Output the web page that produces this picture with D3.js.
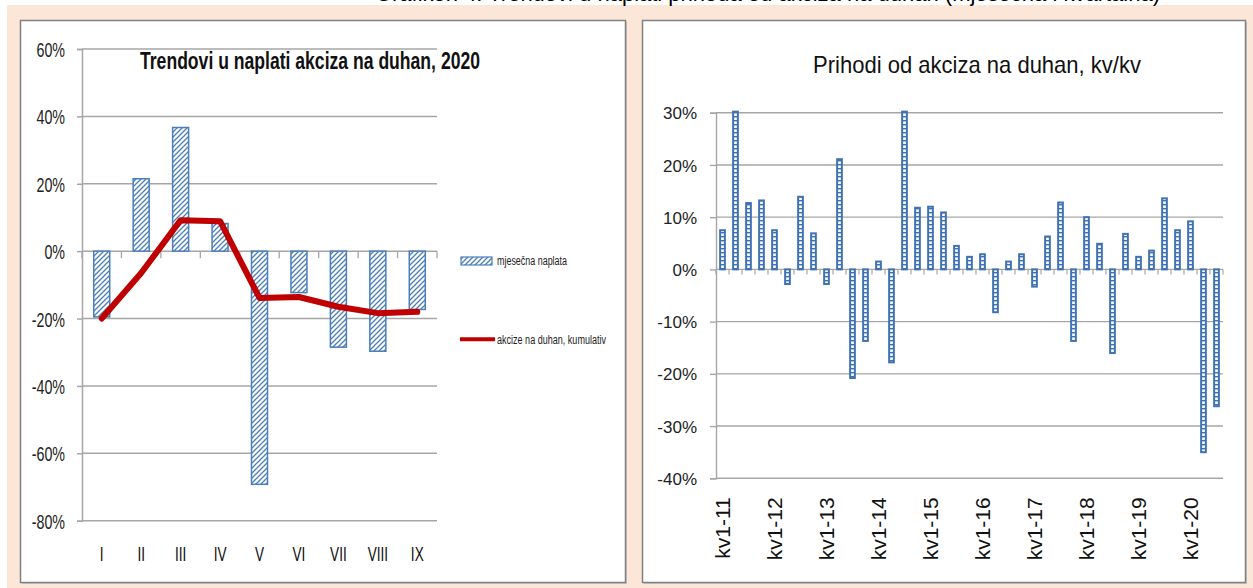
<!DOCTYPE html>
<html>
<head>
<meta charset="utf-8">
<script src="https://cdn.jsdelivr.net/npm/d3@7"></script>
<style>
body { margin: 0; background: #fff; }
svg { display: block; }
</style>
</head>
<body>
<svg id="chart" width="1253" height="588"></svg>
<script>
// left chart: monthly collection 2020
var months = ["I", "II", "III", "IV", "V", "VI", "VII", "VIII", "IX"];
var monthly = [-0.195, 0.215, 0.367, 0.082, -0.692, -0.123, -0.285, -0.297, -0.173];
var cumulative = [-0.200, -0.065, 0.092, 0.089, -0.139, -0.136, -0.165, -0.184, -0.180];
var leftTicks = [-0.8, -0.6, -0.4, -0.2, 0, 0.2, 0.4, 0.6];

// right chart: quarter on quarter
var years = ["11", "12", "13", "14", "15", "16", "17", "18", "19", "20"];
var qtrs = ["kv1", "kv2", "kv3", "kv4"];
var qoq = [0.075, 0.302, 0.127, 0.132, 0.075, -0.028, 0.139, 0.069, -0.028, 0.211,
           -0.208, -0.137, 0.015, -0.178, 0.302, 0.118, 0.120, 0.109, 0.045, 0.024,
           0.029, -0.082, 0.015, 0.029, -0.033, 0.063, 0.128, -0.137, 0.100, 0.049,
           -0.160, 0.068, 0.024, 0.036, 0.136, 0.075, 0.092, -0.350, -0.262];
var rightTicks = [-0.4, -0.3, -0.2, -0.1, 0, 0.1, 0.2, 0.3];

var quarters = [];
years.forEach(function (y) {
    qtrs.forEach(function (q) { quarters.push(q + "-" + y); });
});
quarters = quarters.slice(0, qoq.length);

var pct = function (d) { return Math.round(d * 100) + "%"; };
var gridColor = "#a6a6a6", barBlue = "#3f72b5";

var svg = d3.select("#chart");
var defs = svg.append("defs");

// diagonal hatch for monthly bars
var hatch = defs.append("pattern")
    .attr("id", "hatch")
    .attr("patternUnits", "userSpaceOnUse")
    .attr("width", 5).attr("height", 5);
hatch.append("rect").attr("width", 5).attr("height", 5).attr("fill", "#fff");
hatch.append("path")
    .attr("d", "M0,5 L5,0 M-1,1 L1,-1 M4,6 L6,4")
    .attr("stroke", "#4a7ebb").attr("stroke-width", 1.3);

// ladder fill for quarterly bars
var ladder = defs.append("pattern")
    .attr("id", "ladder")
    .attr("patternUnits", "userSpaceOnUse")
    .attr("width", 10).attr("height", 4);
ladder.append("rect").attr("width", 10).attr("height", 4).attr("fill", "#fff");
ladder.append("rect").attr("width", 10).attr("height", 1.4).attr("fill", barBlue);

// background
svg.append("rect").attr("x", 7).attr("y", 5).attr("width", 1246).attr("height", 583).attr("fill", "#fbe6d8");

// heading line, mostly cut off at the top edge
svg.append("text")
    .attr("x", 1160).attr("y", 0.5)
    .attr("text-anchor", "end")
    .attr("font-family", "Liberation Sans, Arial, sans-serif")
    .attr("font-size", 22)
    .attr("fill", "#000")
    .text("Grafikon 4: Trendovi u naplati prihoda od akciza na duhan (mjesečna i kvartalna)");

// panels
[[20.5, 605], [642.5, 603]].forEach(function (p) {
    svg.append("rect")
        .attr("x", p[0] + 1.5).attr("y", 22).attr("width", p[1]).attr("height", 562)
        .attr("fill", "#c8c8c8");
    svg.append("rect")
        .attr("x", p[0]).attr("y", 20.5).attr("width", p[1]).attr("height", 562)
        .attr("fill", "#fff").attr("stroke", "#808080").attr("stroke-width", 1.5);
});

// ---------- left chart ----------
var xL = d3.scaleBand().domain(months).range([82, 437]);
var yL = d3.scaleLinear().domain([-0.8, 0.6]).range([520.7, 49]);
var gL = svg.append("g");

gL.append("g").selectAll("line").data(leftTicks).enter().append("line")
    .attr("x1", 82).attr("x2", 437)
    .attr("y1", function (d) { return yL(d); })
    .attr("y2", function (d) { return yL(d); })
    .attr("stroke", gridColor).attr("stroke-width", 1.5);

var axL = gL.append("g").attr("transform", "translate(82,0)")
    .call(d3.axisLeft(yL).tickValues(leftTicks).tickFormat(pct).tickSize(5));
axL.select(".domain").attr("stroke", gridColor).attr("stroke-width", 1.5);
axL.selectAll(".tick line").attr("stroke", gridColor).attr("stroke-width", 1.5);
axL.selectAll(".tick text")
    .attr("x", -25).attr("dy", "0.36em")
    .attr("transform", "scale(0.68,1)")
    .attr("font-family", "Liberation Sans, Arial, sans-serif")
    .attr("font-size", 21).attr("fill", "#222");

// category ticks on the zero line
gL.append("g").selectAll("line").data(d3.range(months.length + 1)).enter().append("line")
    .attr("x1", function (i) { return xL.range()[0] + i * xL.step(); })
    .attr("x2", function (i) { return xL.range()[0] + i * xL.step(); })
    .attr("y1", yL(0)).attr("y2", yL(0) + 7)
    .attr("stroke", gridColor).attr("stroke-width", 1.3);

var bxL = gL.append("g").attr("transform", "translate(0," + yL(-0.8) + ")")
    .call(d3.axisBottom(xL).tickSize(0));
bxL.select(".domain").remove();
bxL.selectAll(".tick text")
    .attr("y", 26)
    .attr("transform", "scale(0.68,1)")
    .attr("font-family", "Liberation Sans, Arial, sans-serif")
    .attr("font-size", 20).attr("fill", "#111");

var bwL = 16;
gL.append("g").selectAll("rect").data(monthly).enter().append("rect")
    .attr("x", function (d, i) { return xL(months[i]) + xL.bandwidth() / 2 - bwL / 2; })
    .attr("y", function (d) { return yL(Math.max(0, d)); })
    .attr("width", bwL)
    .attr("height", function (d) { return Math.abs(yL(d) - yL(0)); })
    .attr("fill", "url(#hatch)")
    .attr("stroke", "#4a7ebb").attr("stroke-width", 1.5);

var lineL = d3.line()
    .x(function (d, i) { return xL(months[i]) + xL.bandwidth() / 2; })
    .y(function (d) { return yL(d); });
gL.append("path").datum(cumulative)
    .attr("d", lineL)
    .attr("fill", "none").attr("stroke", "#c00000").attr("stroke-width", 6)
    .attr("stroke-linejoin", "round").attr("stroke-linecap", "round");

gL.append("text")
    .attr("x", 310).attr("y", 69)
    .attr("text-anchor", "middle")
    .attr("textLength", 340).attr("lengthAdjust", "spacingAndGlyphs")
    .attr("font-family", "Liberation Sans, Arial, sans-serif")
    .attr("font-weight", "bold").attr("font-size", 24).attr("fill", "#111")
    .text("Trendovi u naplati akciza na duhan, 2020");

// legend
gL.append("rect").attr("x", 461).attr("y", 257).attr("width", 31).attr("height", 8)
    .attr("fill", "url(#hatch)").attr("stroke", "#4a7ebb").attr("stroke-width", 1.2);
gL.append("text").attr("x", 497).attr("y", 264.5)
    .attr("textLength", 70).attr("lengthAdjust", "spacingAndGlyphs")
    .attr("font-family", "Liberation Sans, Arial, sans-serif")
    .attr("font-size", 12).attr("fill", "#222")
    .text("mjesečna naplata");
gL.append("line").attr("x1", 460).attr("x2", 495).attr("y1", 339.3).attr("y2", 339.3)
    .attr("stroke", "#c00000").attr("stroke-width", 4);
gL.append("text").attr("x", 497).attr("y", 343.5)
    .attr("textLength", 109).attr("lengthAdjust", "spacingAndGlyphs")
    .attr("font-family", "Liberation Sans, Arial, sans-serif")
    .attr("font-size", 12).attr("fill", "#222")
    .text("akcize na duhan, kumulativ");

// ---------- right chart ----------
var xR = d3.scaleBand().domain(quarters).range([716, 1223]);
var yR = d3.scaleLinear().domain([-0.4, 0.3]).range([478.3, 112.7]);
var gR = svg.append("g");

gR.append("g").selectAll("line").data(rightTicks).enter().append("line")
    .attr("x1", 716).attr("x2", 1223)
    .attr("y1", function (d) { return yR(d); })
    .attr("y2", function (d) { return yR(d); })
    .attr("stroke", gridColor).attr("stroke-width", 1.4);

var axR = gR.append("g").attr("transform", "translate(716,0)")
    .call(d3.axisLeft(yR).tickValues(rightTicks).tickFormat(pct).tickSize(6).tickPadding(13));
axR.select(".domain").attr("stroke", gridColor).attr("stroke-width", 1.4);
axR.selectAll(".tick line").attr("stroke", gridColor).attr("stroke-width", 1.4);
axR.selectAll(".tick text")
    .attr("dy", "0.36em")
    .attr("font-family", "Liberation Sans, Arial, sans-serif")
    .attr("font-size", 17).attr("fill", "#222");

gR.append("g").selectAll("line").data(d3.range(quarters.length + 1)).enter().append("line")
    .attr("x1", function (i) { return xR.range()[0] + i * xR.step(); })
    .attr("x2", function (i) { return xR.range()[0] + i * xR.step(); })
    .attr("y1", yR(0)).attr("y2", yR(0) + 5)
    .attr("stroke", gridColor).attr("stroke-width", 1.2);

var bxR = gR.append("g").attr("transform", "translate(0," + yR(-0.4) + ")")
    .call(d3.axisBottom(xR).tickSize(0)
        .tickValues(quarters.filter(function (q) { return q.indexOf("kv1") === 0; })));
bxR.select(".domain").remove();
bxR.selectAll(".tick text")
    .attr("transform", "rotate(-90)")
    .attr("x", -19).attr("y", 0).attr("dy", "0.36em")
    .attr("text-anchor", "end")
    .attr("font-family", "Liberation Sans, Arial, sans-serif")
    .attr("font-size", 21).attr("fill", "#111");

var bwR = 4.7;
gR.append("g").selectAll("rect").data(qoq).enter().append("rect")
    .attr("x", function (d, i) { return xR(quarters[i]) + xR.bandwidth() / 2 - bwR / 2; })
    .attr("y", function (d) { return yR(Math.max(0, d)); })
    .attr("width", bwR)
    .attr("height", function (d) { return Math.abs(yR(d) - yR(0)); })
    .attr("fill", "url(#ladder)")
    .attr("stroke", barBlue).attr("stroke-width", 2);

gR.append("text")
    .attr("x", 977).attr("y", 72.5)
    .attr("text-anchor", "middle")
    .attr("textLength", 328).attr("lengthAdjust", "spacingAndGlyphs")
    .attr("font-family", "Liberation Sans, Arial, sans-serif")
    .attr("font-size", 24).attr("fill", "#111")
    .text("Prihodi od akciza na duhan, kv/kv");
</script>
</body>
</html>
